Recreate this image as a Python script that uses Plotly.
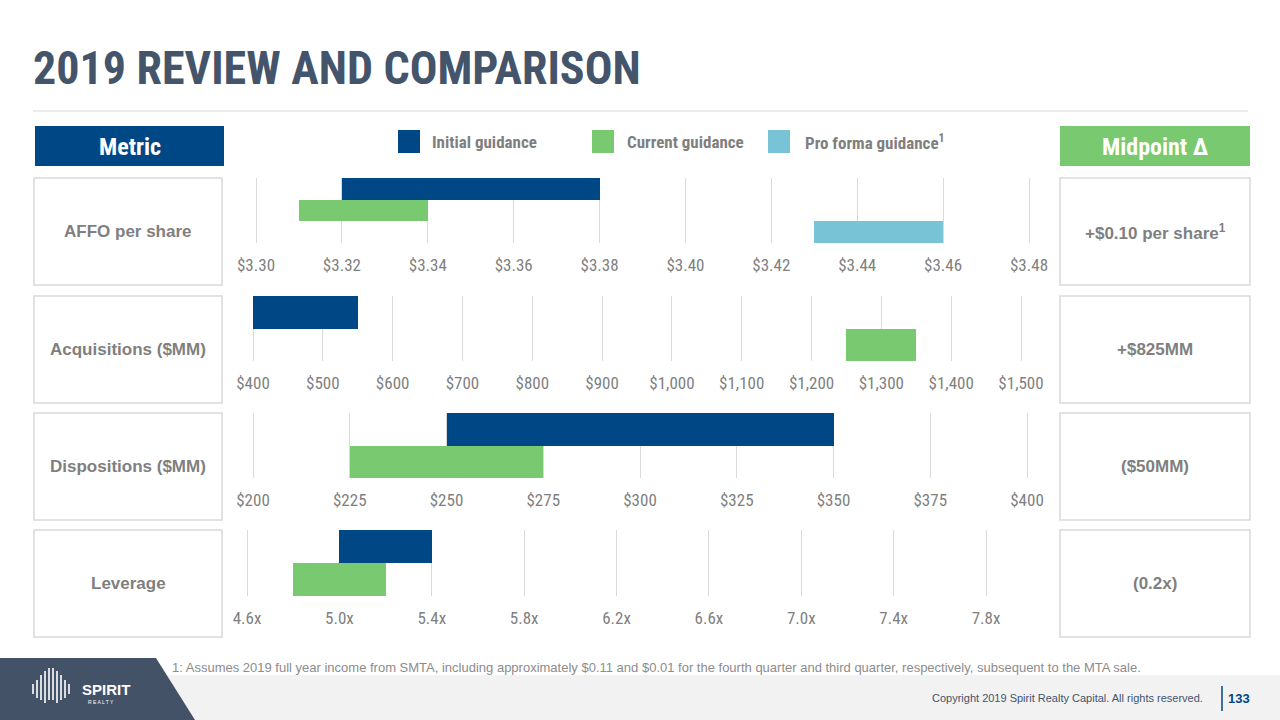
import plotly.graph_objects as go

# ---------------- data ----------------
series = ["Initial guidance", "Current guidance", "Pro forma guidance"]
metrics = ["AFFO per share", "Acquisitions ($MM)", "Dispositions ($MM)", "Leverage"]
midpoint_delta = ["+$0.10 per share<sup>1</sup>", "+$825MM", "($50MM)", "(0.2x)"]

affo_low = [3.32, 3.31, 3.43]
affo_high = [3.38, 3.34, 3.46]
acq_low = [400, 1250]
acq_high = [550, 1350]
disp_low = [250, 225]
disp_high = [350, 275]
lev_low = [5.0, 4.8]
lev_high = [5.4, 5.2]

affo_ticks = [3.30, 3.32, 3.34, 3.36, 3.38, 3.40, 3.42, 3.44, 3.46, 3.48]
affo_labels = ["$3.30", "$3.32", "$3.34", "$3.36", "$3.38", "$3.40", "$3.42", "$3.44", "$3.46", "$3.48"]
acq_ticks = [400, 500, 600, 700, 800, 900, 1000, 1100, 1200, 1300, 1400, 1500]
acq_labels = ["$400", "$500", "$600", "$700", "$800", "$900", "$1,000", "$1,100", "$1,200", "$1,300", "$1,400", "$1,500"]
disp_ticks = [200, 225, 250, 275, 300, 325, 350, 375, 400]
disp_labels = ["$200", "$225", "$250", "$275", "$300", "$325", "$350", "$375", "$400"]
lev_ticks = [4.6, 5.0, 5.4, 5.8, 6.2, 6.6, 7.0, 7.4, 7.8]
lev_labels = ["4.6x", "5.0x", "5.4x", "5.8x", "6.2x", "6.6x", "7.0x", "7.4x", "7.8x"]

# ---------------- style ----------------
W, H = 1280, 720
BLUE = "#004785"
GREEN = "#78c96f"
LBLUE = "#78c3d6"
GRAY = "#7f7f7f"
SLATE = "#44546a"
BORDER = "#d9d9d9"
COLORS = [BLUE, GREEN, LBLUE]
COND = "Liberation Sans Narrow, Arial Narrow, Roboto Condensed, Liberation Sans, sans-serif"
SANS = "Liberation Sans, Arial, sans-serif"


def fx(x):
    return x / W


def fy(y):
    return 1 - y / H


rows = [
    dict(low=affo_low, high=affo_high, ticks=affo_ticks, labels=affo_labels,
         t0px=256, t1px=1029, top=178, bot=243),
    dict(low=acq_low, high=acq_high, ticks=acq_ticks, labels=acq_labels,
         t0px=253, t1px=1021, top=296, bot=361),
    dict(low=disp_low, high=disp_high, ticks=disp_ticks, labels=disp_labels,
         t0px=253, t1px=1027, top=413, bot=478),
    dict(low=lev_low, high=lev_high, ticks=lev_ticks, labels=lev_labels,
         t0px=247, t1px=986, top=530, bot=596),
]

DOM_L, DOM_R = 228, 1052

fig = go.Figure()
layout = dict()
for i, r in enumerate(rows):
    n = i + 1
    xa = "x" if n == 1 else f"x{n}"
    ya = "y" if n == 1 else f"y{n}"
    cats = series[:len(r["low"])]
    for j, c in enumerate(cats):
        fig.add_trace(go.Bar(
            y=[c], x=[r["high"][j] - r["low"][j]], base=[r["low"][j]],
            orientation="h", marker=dict(color=COLORS[j], line=dict(width=0)),
            width=1.0, xaxis=xa, yaxis=ya, showlegend=False,
            hovertemplate=f"{c}: %{{base}} – %{{x}}<extra></extra>",
        ))
    t0, t1 = r["ticks"][0], r["ticks"][-1]
    scale = (t1 - t0) / (r["t1px"] - r["t0px"])
    rng = [t0 - (r["t0px"] - DOM_L) * scale, t1 + (DOM_R - r["t1px"]) * scale]
    layout[f"xaxis{'' if n == 1 else n}"] = dict(
        domain=[fx(DOM_L), fx(DOM_R)], range=rng, anchor=ya,
        tickvals=r["ticks"], ticktext=r["labels"],
        showgrid=True, gridcolor=BORDER, gridwidth=1,
        zeroline=False, showline=False, ticks="",
        tickfont=dict(family=COND, size=17, color=GRAY),
        ticklabelstandoff=10, fixedrange=True,
    )
    layout[f"yaxis{'' if n == 1 else n}"] = dict(
        domain=[fy(r["bot"]), fy(r["top"])], anchor=xa,
        categoryorder="array", categoryarray=cats,
        range=[len(cats) - 0.5, -0.5],
        showticklabels=False, showgrid=False, zeroline=False, showline=False,
        ticks="", fixedrange=True,
    )

shapes = []
annotations = []


def note(x, y, text, font, xanchor="center"):
    annotations.append(dict(x=fx(x), y=fy(y), xref="paper", yref="paper", xanchor=xanchor, yanchor="middle",
                            text=text, showarrow=False, font=font))


def rect(x0, y0, x1, y1, fill, line=None, layer="below"):
    shapes.append(dict(type="rect", xref="paper", yref="paper", x0=fx(x0), x1=fx(x1), y0=fy(y1), y1=fy(y0),
                       fillcolor=fill, line=line or dict(width=0), layer=layer))


# title + rule
note(31, 68, "<b>2019 REVIEW AND COMPARISON</b>", dict(family=COND, size=46, color=SLATE), "left")
shapes.append(dict(type="line", xref="paper", yref="paper", x0=fx(33), x1=fx(1248), y0=fy(111), y1=fy(111),
                   line=dict(color=BORDER, width=1)))

# header boxes
rect(35, 126, 224, 166, BLUE)
note(129.5, 147, "<b>Metric</b>", dict(family=COND, size=24, color="white"))
rect(1060, 126, 1250, 166, GREEN)
note(1155, 147, "<b>Midpoint Δ</b>", dict(family=COND, size=24, color="white"))

# legend
leg = [(398, 430, "Initial guidance"), (592, 625, "Current guidance"), (768, 803, "Pro forma guidance<sup>1</sup>")]
for k, (sx, tx, lab) in enumerate(leg):
    rect(sx, 130, sx + 22, 153, COLORS[k], layer="above")
    note(tx, 142, f"<b>{lab}</b>", dict(family=COND, size=17, color=GRAY), "left")

# row boxes
box_tops = [178, 296, 413, 530]
for k, t in enumerate(box_tops):
    b = t + 107
    for (x0, x1, txt) in [(34, 222, metrics[k]), (1060, 1250, midpoint_delta[k])]:
        rect(x0, t, x1, b, "white", line=dict(color=BORDER, width=1.5))
        note((x0 + x1) / 2, (t + b) / 2, f"<b>{txt}</b>", dict(family=SANS, size=17, color=GRAY))

# footer
rect(0, 675, 1280, 720, "#f2f2f2")
shapes.append(dict(type="path", xref="paper", yref="paper",
                   path=f"M 0 {fy(658)} L {fx(156)} {fy(658)} L {fx(195)} {fy(720)} L 0 {fy(720)} Z",
                   fillcolor="#435266", line=dict(width=0)))
# logo icon (decorative bars)
bars_logo = [(33, 684, 694), (37, 680, 698), (41, 675, 700), (45, 671, 703), (49, 668, 700),
             (53, 668, 700), (57, 671, 703), (61, 675, 700), (65, 680, 698), (69, 684, 694)]
for (lx, ly0, ly1) in bars_logo:
    shapes.append(dict(type="line", xref="paper", yref="paper", x0=fx(lx), x1=fx(lx), y0=fy(ly1), y1=fy(ly0),
                       line=dict(color="white", width=1.6)))
note(80, 689, "<b>SPIRIT</b>", dict(family=SANS, size=15, color="white"), "left")
note(101, 702, "R E A L T Y", dict(family=SANS, size=5, color="white"))

note(170, 667, "1: Assumes 2019 full year income from SMTA, including approximately $0.11 and $0.01 for the fourth quarter and third quarter, respectively, subsequent to the MTA sale.",
     dict(family=SANS, size=13, color="#8c8c8c"), "left")
note(1205, 698, "Copyright 2019 Spirit Realty Capital. All rights reserved.",
     dict(family=SANS, size=11, color=SLATE), "right")
shapes.append(dict(type="line", xref="paper", yref="paper", x0=fx(1222), x1=fx(1222), y0=fy(711), y1=fy(686),
                   line=dict(color=BLUE, width=1.5)))
note(1226, 698, "<b>133</b>", dict(family=SANS, size=13, color=BLUE), "left")

fig.update_layout(
    width=W, height=H, margin=dict(l=0, r=0, t=0, b=0),
    paper_bgcolor="white", plot_bgcolor="rgba(0,0,0,0)",
    barmode="overlay", bargap=0, showlegend=False,
    shapes=shapes, annotations=annotations, **layout,
)

fig.write_html("out.html", config={"displayModeBar": False},
               post_script="document.body.style.margin='0px';")
